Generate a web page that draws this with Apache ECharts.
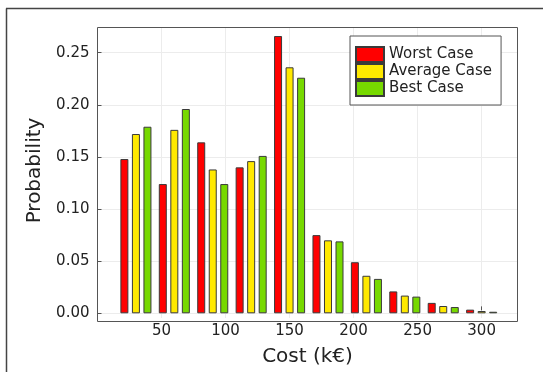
<!DOCTYPE html>
<html>
<head>
<meta charset="utf-8">
<script src="https://cdn.jsdelivr.net/npm/echarts@6/dist/echarts.min.js"></script>
<style>
html, body { margin: 0; padding: 0; background: #fff; }
#main { width: 543px; height: 372px; }
</style>
</head>
<body>
<div id="main"></div>
<script type="text/javascript">
// bar centres (k€) for each case, one per 30 k€ group
var worstX   = [21, 51, 81, 111, 141, 171, 201, 231, 261, 291];
var averageX = [30, 60, 90, 120, 150, 180, 210, 240, 270, 300];
var bestX    = [39, 69, 99, 129, 159, 189, 219, 249, 279, 309];

// probabilities
var worstP   = [0.148, 0.124, 0.164, 0.140, 0.266, 0.075, 0.049, 0.021, 0.010, 0.0035];
var averageP = [0.172, 0.176, 0.138, 0.146, 0.236, 0.070, 0.036, 0.017, 0.007, 0.0022];
var bestP    = [0.179, 0.196, 0.124, 0.151, 0.226, 0.069, 0.033, 0.016, 0.006, 0.0015];

var seriesNames = ['Worst Case', 'Average Case', 'Best Case'];
var xTicks = [50, 100, 150, 200, 250, 300];
var yTicks = [0, 0.05, 0.10, 0.15, 0.20, 0.25];

function pairs(xs, ys){
	var out = [];
	for (var i = 0; i < xs.length; i++) out.push([xs[i], ys[i]]);
	return out;
}

var font = 'DejaVu Sans';
var myChart = echarts.init(document.getElementById('main'));

function barSeries(name, xs, ys, color){
	return {
		name: name,
		type: 'bar',
		xAxisIndex: 1,
		yAxisIndex: 1,
		barWidth: 8,
		barGap: '-100%',
		data: pairs(xs, ys),
		itemStyle: { color: color, borderColor: '#3a3a3a', borderWidth: 1 }
	};
}

var option = {
	animation: false,
	backgroundColor: '#fff',
	textStyle: { fontFamily: font },
	graphic: [
		// figure frame (top and left only) and plot frame
		{ type: 'line', shape: { x1: 6, y1: 8.5, x2: 543, y2: 8.5 }, style: { stroke: '#444', lineWidth: 1.5 } },
		{ type: 'line', shape: { x1: 6.5, y1: 8.5, x2: 6.5, y2: 372 }, style: { stroke: '#444', lineWidth: 1.5 } },
		{ type: 'rect', z: 10, silent: true, shape: { x: 97.5, y: 27.5, width: 420, height: 294 }, style: { fill: null, stroke: '#555', lineWidth: 1 } }
	],
	legend: {
		data: seriesNames,
		orient: 'vertical',
		left: 350,
		top: 36,
		icon: 'rect',
		itemWidth: 28,
		itemHeight: 15,
		itemGap: 0,
		padding: [10, 9, 8, 5],
		backgroundColor: '#fff',
		borderColor: '#555',
		borderWidth: 1,
		textStyle: { fontFamily: font, fontSize: 15, color: '#222', lineHeight: 17 }
	},
	grid: [
		{ left: 97.5, right: 25.5, top: 27.7, bottom: 51 },
		{ left: 97.5, right: 25.5, top: 27.7, bottom: 58.7 }
	],
	xAxis: [
		{
			gridIndex: 0,
			type: 'value',
			min: 0,
			max: 328,
			interval: 50,
			name: 'Cost (k€)',
			nameLocation: 'middle',
			nameGap: 29,
			nameTextStyle: { fontFamily: font, fontSize: 20, color: '#222' },
			axisLine: { show: false },
			axisTick: { show: true, inside: true, length: 4, customValues: xTicks, lineStyle: { color: '#555' } },
			axisLabel: {
				margin: 6,
				fontFamily: font,
				fontSize: 15,
				color: '#222',
				customValues: xTicks
			},
			splitLine: { show: true, lineStyle: { color: '#ececec', width: 1 } }
		},
		{
			gridIndex: 1,
			type: 'value',
			min: 0,
			max: 328,
			show: false
		}
	],
	yAxis: [
		{
			gridIndex: 0,
			type: 'value',
			min: -0.0074,
			max: 0.274,
			show: false
		},
		{
			gridIndex: 1,
			type: 'value',
			min: 0,
			max: 0.274,
			interval: 0.05,
			name: 'Probability',
			nameLocation: 'middle',
			nameGap: 48,
			nameTextStyle: { fontFamily: font, fontSize: 20, color: '#222' },
			axisLine: { show: false },
			axisTick: { show: true, inside: true, length: 4, customValues: yTicks, lineStyle: { color: '#555' } },
			axisLabel: {
				margin: 8,
				fontFamily: font,
				fontSize: 15,
				color: '#222',
				customValues: yTicks,
				formatter: function(v){ return v.toFixed(2); }
			},
			splitLine: { show: true, lineStyle: { color: '#ececec', width: 1 } }
		}
	],
	series: [
		barSeries(seriesNames[0], worstX, worstP, '#ff0000'),
		barSeries(seriesNames[1], averageX, averageP, '#ffe900'),
		barSeries(seriesNames[2], bestX, bestP, '#77d900')
	]
};

myChart.setOption(option);
</script>
</body>
</html>
